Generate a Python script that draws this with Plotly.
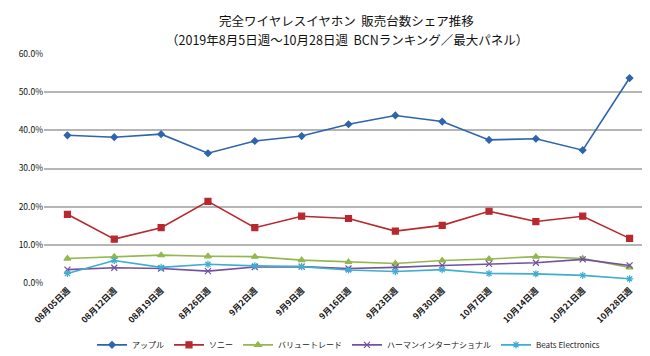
import plotly.graph_objects as go

categories = ["08月05日週", "08月12日週", "08月19日週", "8月26日週", "9月2日週", "9月9日週",
              "9月16日週", "9月23日週", "9月30日週", "10月7日週", "10月14日週", "10月21日週", "10月28日週"]
apple = [38.7, 38.2, 39.0, 34.0, 37.2, 38.5, 41.6, 43.9, 42.3, 37.5, 37.8, 34.8, 53.7]
sony = [18.0, 11.5, 14.5, 21.4, 14.5, 17.5, 16.9, 13.6, 15.1, 18.8, 16.1, 17.5, 11.7]
value_trade = [6.4, 6.9, 7.3, 7.0, 6.9, 6.0, 5.5, 5.1, 5.9, 6.3, 6.9, 6.4, 4.1]
harman = [3.5, 4.0, 3.8, 3.1, 4.2, 4.3, 3.8, 4.1, 4.6, 5.0, 5.3, 6.2, 4.6]
beats = [2.5, 5.9, 4.1, 4.9, 4.5, 4.3, 3.4, 3.0, 3.5, 2.5, 2.4, 2.0, 1.1]

title_lines = ["完全ワイヤレスイヤホン  販売台数シェア推移",
               "（2019年8月5日週～10月28日週  BCNランキング／最大パネル）"]

series = [
    ("アップル", apple, "#2E64AC", "diamond", 5),
    ("ソニー", sony, "#B8282E", "square", 6),
    ("バリュートレード", value_trade, "#92B84E", "triangle-up", 6),
    ("ハーマンインターナショナル", harman, "#7450A0", "x-thin", 6),
    ("Beats Electronics", beats, "#3EADCF", "asterisk", 6),
]

font = "Noto Sans CJK JP, Noto Sans, sans-serif"
fig = go.Figure()
for name, vals, color, sym, sz in series:
    fig.add_trace(go.Scatter(
        x=categories, y=[v / 100 for v in vals], name=name, mode="lines+markers",
        line=dict(color=color, width=1.6),
        marker=dict(symbol=sym, size=sz, color=color, line=dict(color=color, width=1.2)),
    ))

H = 356
for txt, ypx in zip(title_lines, [11, 31]):
    fig.add_annotation(text=txt, xref="paper", yref="paper", x=0.497, xanchor="center",
                       y=1 + (46 - ypx) / 236, yanchor="middle", showarrow=False,
                       font=dict(family=font, size=12.5, color="#111"))

fig.update_layout(
    width=650, height=H,
    paper_bgcolor="white", plot_bgcolor="white",
    margin=dict(l=36, r=5, t=46, b=74),
    showlegend=True,
    legend=dict(orientation="h", x=0.5, xanchor="center", y=-0.27, yanchor="middle",
                font=dict(family=font, size=8, color="#222"), itemwidth=30,
                bgcolor="rgba(0,0,0,0)", tracegroupgap=0),
    font=dict(family=font),
)
fig.update_xaxes(type="category", range=[-0.5, 12.5], tickangle=-45,
                 tickfont=dict(family=font, size=8.5, color="#111", weight="bold"),
                 showgrid=False, showline=False, ticks="", zeroline=False)
fig.update_yaxes(range=[0, 0.6], dtick=0.1, tickformat=".1%",
                 tickfont=dict(family=font, size=8.5, color="#111"),
                 showgrid=True, gridcolor="#B5B5B5", gridwidth=1.5,
                 zeroline=False, showline=False, ticks="")

fig.write_html("out.html")
